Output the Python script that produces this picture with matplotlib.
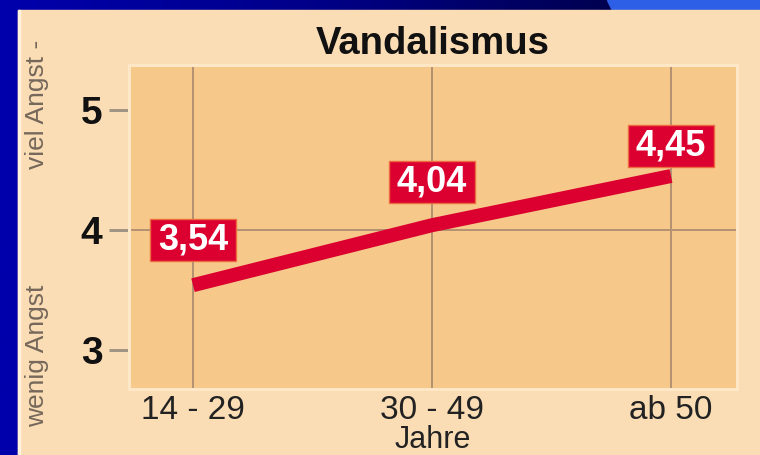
import matplotlib
matplotlib.use('Agg')
import matplotlib.pyplot as plt
import numpy as np
from matplotlib.path import Path
from matplotlib.patches import Rectangle, Polygon
from matplotlib.colors import LinearSegmentedColormap

# ---- data ----
categories = ['14 - 29', '30 - 49', 'ab 50']
values = [3.54, 4.04, 4.45]
value_labels = ['3,54', '4,04', '4,45']
yticks = [3, 4, 5]
title = 'Vandalismus'
xlabel = 'Jahre'
ylabel_high = 'viel Angst -'
ylabel_low = 'wenig Angst'

# ---- style ----
W, H = 760, 455
PX = 72.0 / 100  # points per pixel
RED = '#DC0030'
SANS = ['Liberation Sans', 'DejaVu Sans']
label_offsets_px = [45, 43, 30]

fig = plt.figure(figsize=(W / 100, H / 100), dpi=100)

# background (pixel coordinates, y down)
bg = fig.add_axes([0, 0, 1, 1])
bg.set_axis_off()
bg.set_xlim(0, W)
bg.set_ylim(H, 0)
grad = np.linspace(0, 1, 256).reshape(1, -1)
cmap = LinearSegmentedColormap.from_list('b', ['#0000AC', '#00008A', '#000050'])
bg.imshow(grad, extent=(0, 615, H, 0), aspect='auto', cmap=cmap, zorder=0)
bg.add_patch(Rectangle((614, 0), W - 614, 12, color='#000050', zorder=0.5))
bg.add_patch(Polygon([(607, 0), (W, 0), (W, 12), (613, 12)], closed=True,
                     color='#2D5EE6', zorder=1))
bg.add_patch(Rectangle((18, 10), W - 18, H - 10, color='#FBDDB5', zorder=2))
bg.add_patch(Rectangle((18, 10), 2, H - 10, color='#FFF2DE', zorder=2.5))
bg.set_aspect('auto')

# main axes
L, R, T, B = 128.5, 736.5, 64.5, 388.5
ax = fig.add_axes([L / W, (H - B) / H, (R - L) / W, (B - T) / H])
ax.set_facecolor('#F6C98A')
x0px, x2px = 193, 671
ppu_x = (x2px - x0px) / 2.0
ax.set_xlim(-(x0px - L) / ppu_x, 2 + (R - x2px) / ppu_x)
y4px, ppu_y = 230, 120.0
ax.set_ylim(4 - (B - y4px) / ppu_y, 4 + (y4px - T) / ppu_y)

for s in ax.spines.values():
    s.set_color('#FDE7C6')
    s.set_linewidth(3 * PX)
    s.set_zorder(5)

xs = np.arange(len(categories))
# grid
for xv in xs:
    ax.axvline(xv, color='#B49272', lw=2 * PX, zorder=1)
ax.axhline(yticks[1], color='#B49272', lw=2 * PX, zorder=1)

ax.plot(xs, values, color=RED, lw=14 * PX, solid_capstyle='butt', zorder=3)


def label_box(x0, y0, width, height, mutation_size):
    px = 0.22 * mutation_size
    py = 0.09 * mutation_size
    xa, xb = x0 - px, x0 + width + px
    ya, yb = y0 - py, y0 + height + py
    return Path([(xa, ya), (xb, ya), (xb, yb), (xa, yb), (xa, ya)],
                [Path.MOVETO, Path.LINETO, Path.LINETO, Path.LINETO, Path.CLOSEPOLY])


for xv, v, lab, off in zip(xs, values, value_labels, label_offsets_px):
    ax.annotate(lab, (xv, v), xytext=(0, off * PX), textcoords='offset points',
                ha='center', va='center', color='white', fontsize=26,
                fontweight='bold', family=SANS, zorder=6,
                bbox=dict(boxstyle=label_box, fc=RED, ec='#EE6A40', lw=1))

ax.set_xticks(xs)
ax.set_xticklabels(categories, family=SANS, fontsize=24, color='#222222')
ax.tick_params(axis='x', length=0, pad=4.5)
ax.set_yticks(yticks)
ax.set_yticklabels([str(t) for t in yticks], family=SANS, fontsize=28,
                   fontweight='bold', color='#111111')
ax.tick_params(axis='y', direction='out', length=20 * PX, width=3 * PX,
               color='#A09484', pad=4.5)

fig.text((L + R) / 2 / W, 1 - 54 / H, title, ha='center', va='baseline',
         fontsize=27.5, fontweight='bold', family=SANS, color='#111111')
fig.text((L + R) / 2 / W, 1 - 448.5 / H, xlabel, ha='center', va='baseline',
         fontsize=22, family=SANS, color='#222222')
fig.text(37 / W, 1 - 104 / H, ylabel_high, rotation=90, ha='center', va='center',
         fontsize=19, family=SANS, color='#75685A')
fig.text(37 / W, 1 - 356 / H, ylabel_low, rotation=90, ha='center', va='center',
         fontsize=19, family=SANS, color='#75685A')

fig.savefig('out.png', dpi=100)
